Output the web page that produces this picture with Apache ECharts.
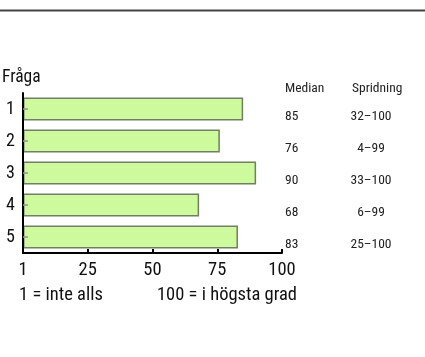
<!DOCTYPE html>
<html>
<head>
<meta charset="utf-8">
<script src="https://cdn.jsdelivr.net/npm/echarts@6/dist/echarts.min.js"></script>
<style>
html,body{margin:0;padding:0;background:#fff;}
#c{width:425px;height:357px;}
</style>
</head>
<body>
<div id="c"></div>
<script>
const questions = ['1', '2', '3', '4', '5'];
const medians = [85, 76, 90, 68, 83];
const spreads = ['32–100', '4–99', '33–100', '6–99', '25–100'];
const xTicks = [0, 25, 50, 75, 100];
const xTickLabels = ['1', '25', '50', '75', '100'];

const FONT = '"Roboto Condensed", "DejaVu Sans Condensed", sans-serif';
const chart = echarts.init(document.getElementById('c'), null, {renderer: 'canvas'});

chart.setOption({
  animation: false,
  backgroundColor: '#fff',
  textStyle: {fontFamily: FONT},
  grid: {left: 23, top: 93, width: 259, height: 160, containLabel: false},
  xAxis: {
    type: 'value', min: 0, max: 100, interval: 25,
    axisLine: {show: true, lineStyle: {color: '#000', width: 2}},
    axisTick: {show: true, inside: true, length: 4, lineStyle: {color: '#000', width: 2}},
    splitLine: {show: false},
    axisLabel: {
      margin: 8, fontSize: 18.5, color: '#111', fontFamily: FONT,
      formatter: v => xTickLabels[xTicks.indexOf(v)]
    }
  },
  yAxis: [{
    type: 'category', data: questions, inverse: true, z: 10,
    axisLine: {show: true, lineStyle: {color: '#000', width: 2}},
    axisTick: {show: true, inside: true, alignWithLabel: true, length: 5, lineStyle: {color: '#8a9a78', width: 1.5}},
    axisLabel: {margin: 8, fontSize: 18, color: '#111', fontFamily: FONT}
  }, {
    type: 'category', data: questions, inverse: true, position: 'right',
    axisLine: {show: false}, axisTick: {show: false},
    axisLabel: {
      margin: 3, padding: [15, 0, 0, 0], fontFamily: FONT,
      formatter: (v, i) => '{m|' + medians[i] + '}{s|' + spreads[i] + '}',
      rich: {
        m: {width: 67, fontSize: 13.5, color: '#222', fontFamily: FONT},
        s: {width: 38, align: 'center', fontSize: 13.5, color: '#222', fontFamily: FONT}
      }
    }
  }],
  series: [{
    type: 'bar', data: medians, barWidth: 23,
    itemStyle: {color: '#ccfa9c', borderColor: '#737d68', borderWidth: 1.5}
  }],
  graphic: [
    {type: 'line', shape: {x1: 0, y1: 10.5, x2: 425, y2: 10.5}, style: {stroke: '#444', lineWidth: 2}},
    {type: 'text', x: 2, y: 78, style: {text: 'Fråga', fontSize: 17.5, fontFamily: FONT, fill: '#111', verticalAlign: 'middle'}},
    {type: 'text', x: 285, y: 89, style: {text: 'Median', fontSize: 13.5, fontFamily: FONT, fill: '#222', verticalAlign: 'middle'}},
    {type: 'text', x: 352, y: 89, style: {text: 'Spridning', fontSize: 13.5, fontFamily: FONT, fill: '#222', verticalAlign: 'middle'}},
    {type: 'text', x: 19, y: 295, style: {text: '1 = inte alls', fontSize: 18.5, fontFamily: FONT, fill: '#111', verticalAlign: 'middle'}},
    {type: 'text', x: 297, y: 295, style: {text: '100 = i högsta grad', fontSize: 18.5, fontFamily: FONT, fill: '#111', verticalAlign: 'middle', align: 'right'}}
  ]
});
</script>
</body>
</html>
